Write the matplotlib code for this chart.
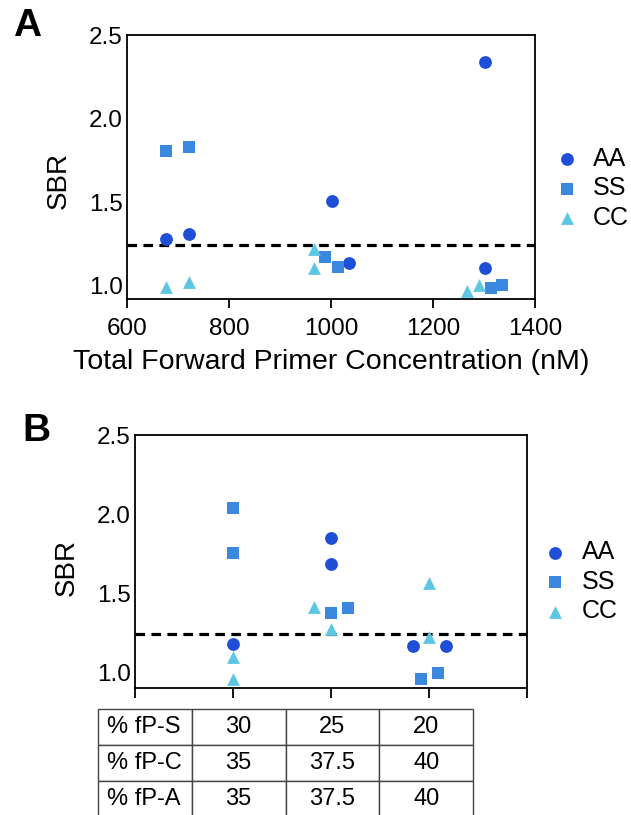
import numpy as np
import matplotlib
matplotlib.use('Agg')
import matplotlib.pyplot as plt

plt.rcParams['font.family'] = ['Liberation Sans', 'DejaVu Sans']

# panel A: total forward primer concentration (nM) vs SBR
conc_aa = [677, 722, 1001, 1035, 1302, 1302]
sbr_aa = [1.28, 1.31, 1.505, 1.133, 2.34, 1.103]
conc_ss = [677, 722, 989, 1013, 1313, 1335]
sbr_ss = [1.807, 1.831, 1.169, 1.109, 0.987, 1.003]
conc_cc = [677, 722, 966, 966, 1267, 1290]
sbr_cc = [0.993, 1.019, 1.217, 1.103, 0.969, 1.003]

# panel B: primer ratio groups (1, 2, 3) vs SBR
grp_aa = [1, 2, 2, 2.84, 3.17]
sbrb_aa = [1.184, 1.85, 1.69, 1.173, 1.173]
grp_ss = [1, 1, 2, 2.17, 2.92, 3.09]
sbrb_ss = [2.042, 1.758, 1.375, 1.41, 0.96, 0.998]
grp_cc = [1, 1, 1.83, 2, 3, 3]
sbrb_cc = [1.1, 0.964, 1.418, 1.277, 1.568, 1.226]

threshold = 1.245
row_labels = ['% fP-S', '% fP-C', '% fP-A']
table_vals = [['30', '25', '20'],
              ['35', '37.5', '40'],
              ['35', '37.5', '40']]

c_aa = '#1f4fd6'
c_ss = '#3b89df'
c_cc = '#5dc7e3'

fig = plt.figure(figsize=(6.31, 8.15), dpi=100)
axA = fig.add_axes([0.2013, 0.6331, 0.6466, 0.3239])
axB = fig.add_axes([0.2139, 0.1558, 0.6212, 0.3104])


def draw(ax, xa, ya, xs, ys, xc, yc, leg_x, handle_pad):
    ax.scatter(xa, ya, s=85, marker='o', color=c_aa, label='AA', zorder=3, linewidths=0)
    ax.scatter(xs, ys, s=85, marker='s', color=c_ss, label='SS', zorder=3, linewidths=0)
    ax.scatter(xc, yc, s=85, marker='^', color=c_cc, label='CC', zorder=3, linewidths=0)
    ax.axhline(threshold, color='black', lw=2.3, ls=(0, (3, 2)), zorder=2)
    ax.set_yticks([1.0, 1.5, 2.0, 2.5])
    ax.set_yticklabels(['1.0', '1.5', '2.0', '2.5'])
    ax.tick_params(axis='y', length=0, pad=3, labelsize=17.5)
    ax.tick_params(axis='x', direction='out', length=6.5, width=1.3,
                   labelsize=17.5, pad=7)
    for sp in ax.spines.values():
        sp.set_linewidth(1.3)
    ax.set_ylabel('SBR', fontsize=20)
    ax.legend(loc='center left', bbox_to_anchor=(leg_x, 0.42), frameon=False,
              fontsize=18, handletextpad=handle_pad, labelspacing=0.22,
              borderaxespad=0, borderpad=0.4, handlelength=1.0)


draw(axA, conc_aa, sbr_aa, conc_ss, sbr_ss, conc_cc, sbr_cc, 1.023, 0.54)
axA.set_ylim(0.919, 2.5)
axA.set_xlim(600, 1400)
axA.set_xticks([600, 800, 1000, 1200, 1400])
axA.set_xlabel('Total Forward Primer Concentration (nM)', fontsize=20.5, labelpad=7)
axA.yaxis.set_label_coords(-0.135, 0.45)

draw(axB, grp_aa, sbrb_aa, grp_ss, sbrb_ss, grp_cc, sbrb_cc, 1.014, 0.58)
axB.set_ylim(0.905, 2.5)
axB.set_xlim(0, 4)
axB.set_xticks([0, 1, 2, 3, 4])
axB.set_xticklabels([])
axB.tick_params(axis='x', length=7.5)
axB.yaxis.set_label_coords(-0.14, 0.478)

fig.text(13 / 631, 1 - 8 / 815, 'A', fontsize=28, fontweight='bold', va='top')
fig.text(22 / 631, 1 - 413 / 815, 'B', fontsize=28, fontweight='bold', va='top')

# table under panel B
axT = fig.add_axes([98 / 631, -2 / 815, 375 / 631, 108 / 815])
axT.axis('off')
cells = [[row_labels[i]] + table_vals[i] for i in range(3)]
tab = axT.table(cellText=cells, bbox=[0, 0, 1, 1], cellLoc='center')
tab.auto_set_font_size(False)
for (r, c), cell in tab.get_celld().items():
    cell.set_fontsize(17)
    cell.set_edgecolor('#444444')
    cell.set_linewidth(1.0)
    if c == 0:
        cell.get_text().set_ha('left')
        cell.PAD = 0.1

fig.savefig('out.png', dpi=100)
